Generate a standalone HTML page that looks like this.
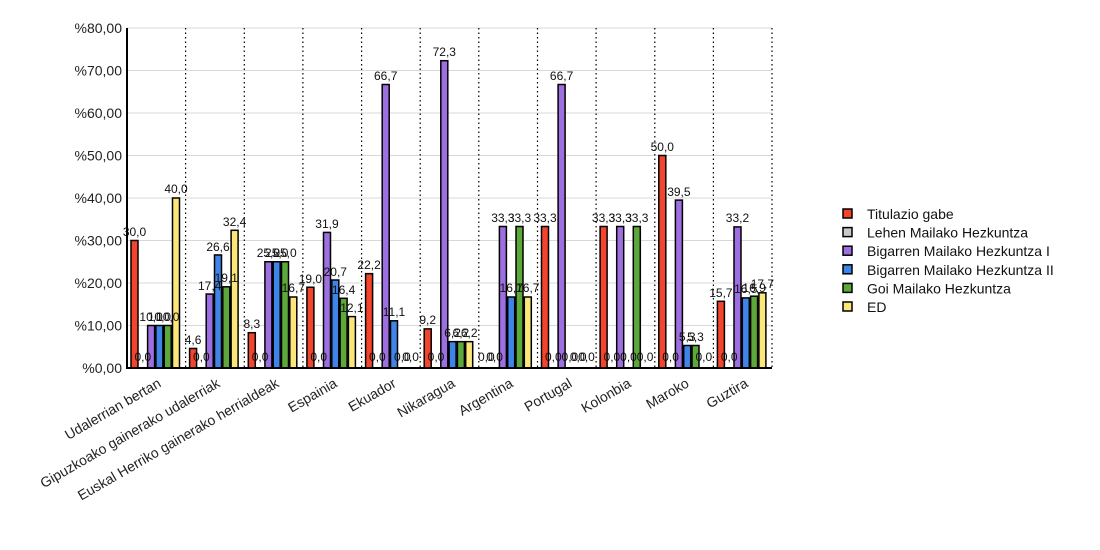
<!DOCTYPE html>
<html><head><meta charset="utf-8"><style>
html,body{margin:0;padding:0;background:#fff;}
svg{display:block;font-family:"Liberation Sans",Arial,sans-serif;}
.r{fill:#f5442c}.g{fill:#c8c8c8}.p{fill:#9e6fe0}.b{fill:#3f84e8}.n{fill:#5da83a}.y{fill:#fbe67a}
rect.bar{stroke:#000;stroke-width:1.5}
.lb{font-size:12px;text-anchor:middle;fill:#111}
.ax{font-size:14px;fill:#222}
</style></head><body>
<svg width="1100" height="550" viewBox="0 0 1100 550">
<g stroke="#d8d8d8" stroke-width="1">
<line x1="127" x2="772" y1="28" y2="28"/><line x1="127" x2="772" y1="70.5" y2="70.5"/><line x1="127" x2="772" y1="113" y2="113"/><line x1="127" x2="772" y1="155.5" y2="155.5"/><line x1="127" x2="772" y1="198" y2="198"/><line x1="127" x2="772" y1="240.5" y2="240.5"/><line x1="127" x2="772" y1="283" y2="283"/><line x1="127" x2="772" y1="325.5" y2="325.5"/>
</g>
<g stroke="#000" stroke-width="1.2" stroke-dasharray="1.5,3">
<line x1="185.6" x2="185.6" y1="28" y2="368"/><line x1="244.3" x2="244.3" y1="28" y2="368"/><line x1="302.9" x2="302.9" y1="28" y2="368"/><line x1="361.6" x2="361.6" y1="28" y2="368"/><line x1="420.2" x2="420.2" y1="28" y2="368"/><line x1="478.8" x2="478.8" y1="28" y2="368"/><line x1="537.5" x2="537.5" y1="28" y2="368"/><line x1="596.1" x2="596.1" y1="28" y2="368"/><line x1="654.8" x2="654.8" y1="28" y2="368"/><line x1="713.4" x2="713.4" y1="28" y2="368"/><line x1="772" x2="772" y1="28" y2="368"/>
</g>
<g class="ax" text-anchor="end">
<text x="122" y="33">%80,00</text><text x="122" y="75.5">%70,00</text><text x="122" y="118">%60,00</text><text x="122" y="160.5">%50,00</text><text x="122" y="203">%40,00</text><text x="122" y="245.5">%30,00</text><text x="122" y="288">%20,00</text><text x="122" y="330.5">%10,00</text><text x="122" y="373">%0,00</text>
</g>

<g transform="translate(127,0)">
<rect class="bar r" x="4" y="240.5" width="7" height="127.5"/>
<rect class="bar p" x="20.6" y="325.5" width="7" height="42.5"/>
<rect class="bar b" x="28.9" y="325.5" width="7" height="42.5"/>
<rect class="bar n" x="37.2" y="325.5" width="7" height="42.5"/>
<rect class="bar y" x="45.5" y="198" width="7" height="170"/>
<text class="lb" x="7.5" y="236">30,0</text><text class="lb" x="15.8" y="361">0,0</text><text class="lb" x="24.1" y="321">10,0</text><text class="lb" x="32.4" y="321">10,0</text><text class="lb" x="40.7" y="321">10,0</text><text class="lb" x="49" y="193">40,0</text>
</g>
<g transform="translate(185.6,0)">
<rect class="bar r" x="4" y="348.45" width="7" height="19.55"/>
<rect class="bar p" x="20.6" y="294.05" width="7" height="73.95"/>
<rect class="bar b" x="28.9" y="254.95" width="7" height="113.05"/>
<rect class="bar n" x="37.2" y="286.8" width="7" height="81.2"/>
<rect class="bar y" x="45.5" y="230.3" width="7" height="137.7"/>
<text class="lb" x="7.5" y="344">4,6</text><text class="lb" x="15.8" y="361">0,0</text><text class="lb" x="24.1" y="290">17,4</text><text class="lb" x="32.4" y="251">26,6</text><text class="lb" x="40.7" y="282">19,1</text><text class="lb" x="49" y="226">32,4</text>
</g>
<g transform="translate(244.3,0)">
<rect class="bar r" x="4" y="332.7" width="7" height="35.3"/>
<rect class="bar p" x="20.6" y="261.75" width="7" height="106.25"/>
<rect class="bar b" x="28.9" y="261.75" width="7" height="106.25"/>
<rect class="bar n" x="37.2" y="261.75" width="7" height="106.25"/>
<rect class="bar y" x="45.5" y="297" width="7" height="71"/>
<text class="lb" x="7.5" y="328">8,3</text><text class="lb" x="15.8" y="361">0,0</text><text class="lb" x="24.1" y="257">25,0</text><text class="lb" x="32.4" y="257">25,0</text><text class="lb" x="40.7" y="257">25,0</text><text class="lb" x="49" y="292">16,7</text>
</g>
<g transform="translate(302.9,0)">
<rect class="bar r" x="4" y="287.25" width="7" height="80.75"/>
<rect class="bar p" x="20.6" y="232.4" width="7" height="135.6"/>
<rect class="bar b" x="28.9" y="280" width="7" height="88"/>
<rect class="bar n" x="37.2" y="298.3" width="7" height="69.7"/>
<rect class="bar y" x="45.5" y="316.6" width="7" height="51.4"/>
<text class="lb" x="7.5" y="283">19,0</text><text class="lb" x="15.8" y="361">0,0</text><text class="lb" x="24.1" y="228">31,9</text><text class="lb" x="32.4" y="276">20,7</text><text class="lb" x="40.7" y="294">16,4</text><text class="lb" x="49" y="312">12,1</text>
</g>
<g transform="translate(361.6,0)">
<rect class="bar r" x="4" y="273.65" width="7" height="94.35"/>
<rect class="bar p" x="20.6" y="84.5" width="7" height="283.5"/>
<rect class="bar b" x="28.9" y="320.8" width="7" height="47.2"/>
<text class="lb" x="7.5" y="269">22,2</text><text class="lb" x="15.8" y="361">0,0</text><text class="lb" x="24.1" y="80">66,7</text><text class="lb" x="32.4" y="316">11,1</text><text class="lb" x="40.7" y="361">0,0</text><text class="lb" x="49" y="361">0,0</text>
</g>
<g transform="translate(420.2,0)">
<rect class="bar r" x="4" y="328.9" width="7" height="39.1"/>
<rect class="bar p" x="20.6" y="60.7" width="7" height="307.3"/>
<rect class="bar b" x="28.9" y="341.65" width="7" height="26.35"/>
<rect class="bar n" x="37.2" y="341.65" width="7" height="26.35"/>
<rect class="bar y" x="45.5" y="341.65" width="7" height="26.35"/>
<text class="lb" x="7.5" y="324">9,2</text><text class="lb" x="15.8" y="361">0,0</text><text class="lb" x="24.1" y="56">72,3</text><text class="lb" x="32.4" y="337">6,2</text><text class="lb" x="40.7" y="337">6,2</text><text class="lb" x="49" y="337">6,2</text>
</g>
<g transform="translate(478.8,0)">
<rect class="bar p" x="20.6" y="226.5" width="7" height="141.5"/>
<rect class="bar b" x="28.9" y="297" width="7" height="71"/>
<rect class="bar n" x="37.2" y="226.5" width="7" height="141.5"/>
<rect class="bar y" x="45.5" y="297" width="7" height="71"/>
<text class="lb" x="7.5" y="361">0,0</text><text class="lb" x="15.8" y="361">0,0</text><text class="lb" x="24.1" y="222">33,3</text><text class="lb" x="32.4" y="292">16,7</text><text class="lb" x="40.7" y="222">33,3</text><text class="lb" x="49" y="292">16,7</text>
</g>
<g transform="translate(537.5,0)">
<rect class="bar r" x="4" y="226.5" width="7" height="141.5"/>
<rect class="bar p" x="20.6" y="84.5" width="7" height="283.5"/>
<text class="lb" x="7.5" y="222">33,3</text><text class="lb" x="15.8" y="361">0,0</text><text class="lb" x="24.1" y="80">66,7</text><text class="lb" x="32.4" y="361">0,0</text><text class="lb" x="40.7" y="361">0,0</text><text class="lb" x="49" y="361">0,0</text>
</g>
<g transform="translate(596.1,0)">
<rect class="bar r" x="4" y="226.5" width="7" height="141.5"/>
<rect class="bar p" x="20.6" y="226.5" width="7" height="141.5"/>
<rect class="bar n" x="37.2" y="226.5" width="7" height="141.5"/>
<text class="lb" x="7.5" y="222">33,3</text><text class="lb" x="15.8" y="361">0,0</text><text class="lb" x="24.1" y="222">33,3</text><text class="lb" x="32.4" y="361">0,0</text><text class="lb" x="40.7" y="222">33,3</text><text class="lb" x="49" y="361">0,0</text>
</g>
<g transform="translate(654.8,0)">
<rect class="bar r" x="4" y="155.5" width="7" height="212.5"/>
<rect class="bar p" x="20.6" y="200.1" width="7" height="167.9"/>
<rect class="bar b" x="28.9" y="345.5" width="7" height="22.5"/>
<rect class="bar n" x="37.2" y="345.5" width="7" height="22.5"/>
<text class="lb" x="7.5" y="151">50,0</text><text class="lb" x="15.8" y="361">0,0</text><text class="lb" x="24.1" y="196">39,5</text><text class="lb" x="32.4" y="341">5,3</text><text class="lb" x="40.7" y="341">5,3</text><text class="lb" x="49" y="361">0,0</text>
</g>
<g transform="translate(713.4,0)">
<rect class="bar r" x="4" y="301.3" width="7" height="66.7"/>
<rect class="bar p" x="20.6" y="226.9" width="7" height="141.1"/>
<rect class="bar b" x="28.9" y="297.9" width="7" height="70.1"/>
<rect class="bar n" x="37.2" y="296.2" width="7" height="71.8"/>
<rect class="bar y" x="45.5" y="292.8" width="7" height="75.2"/>
<text class="lb" x="7.5" y="297">15,7</text><text class="lb" x="15.8" y="361">0,0</text><text class="lb" x="24.1" y="222">33,2</text><text class="lb" x="32.4" y="293">16,5</text><text class="lb" x="40.7" y="292">16,9</text><text class="lb" x="49" y="288">17,7</text>
</g>

<line x1="127" x2="127" y1="28" y2="369" stroke="#000" stroke-width="2"/>
<line x1="126" x2="772" y1="368" y2="368" stroke="#000" stroke-width="2"/>

<g class="ax" text-anchor="end">
<text transform="translate(162,386) rotate(-30)">Udalerrian bertan</text>
<text transform="translate(221,386) rotate(-30)">Gipuzkoako gainerako udalerriak</text>
<text transform="translate(280,386) rotate(-30)">Euskal Herriko gainerako herrialdeak</text>
<text transform="translate(338,386) rotate(-30)">Espainia</text>
<text transform="translate(397,386) rotate(-30)">Ekuador</text>
<text transform="translate(456,386) rotate(-30)">Nikaragua</text>
<text transform="translate(514,386) rotate(-30)">Argentina</text>
<text transform="translate(573,386) rotate(-30)">Portugal</text>
<text transform="translate(632,386) rotate(-30)">Kolonbia</text>
<text transform="translate(690,386) rotate(-30)">Maroko</text>
<text transform="translate(749,386) rotate(-30)">Guztira</text>
</g>

<g font-size="14" fill="#111">
<rect class="bar r" x="843" y="209" width="9" height="9"/><text x="867" y="219">Titulazio gabe</text>
<rect class="bar g" x="843" y="227.6" width="9" height="9"/><text x="867" y="237.6">Lehen Mailako Hezkuntza</text>
<rect class="bar p" x="843" y="246.2" width="9" height="9"/><text x="867" y="256.2">Bigarren Mailako Hezkuntza I</text>
<rect class="bar b" x="843" y="264.8" width="9" height="9"/><text x="867" y="274.8">Bigarren Mailako Hezkuntza II</text>
<rect class="bar n" x="843" y="283.4" width="9" height="9"/><text x="867" y="293.4">Goi Mailako Hezkuntza</text>
<rect class="bar y" x="843" y="302" width="9" height="9"/><text x="867" y="312">ED</text>
</g>
</svg>
</body></html>
